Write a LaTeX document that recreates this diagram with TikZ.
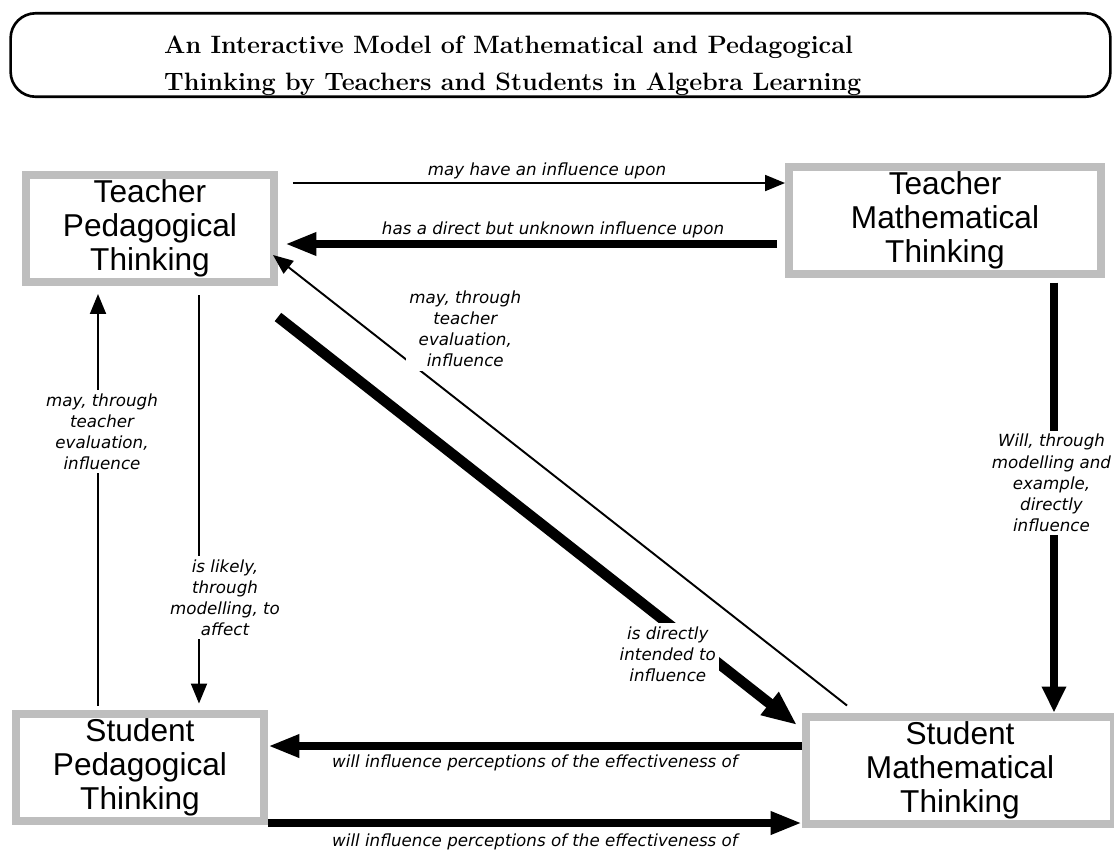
\documentclass[tikz,border=0pt]{standalone}
\usepackage{fontspec}
\setsansfont{Liberation Sans}
\newfontfamily\edgefont{DejaVu Sans}
\usetikzlibrary{arrows.meta,positioning,calc}
\definecolor{BoxGray}{HTML}{BEBEBE}

\begin{document}
\begin{tikzpicture}[x=0.02cm, y=-0.02cm,
   box/.style={draw=BoxGray, line width=0.16cm, fill=white, align=center, inner sep=0pt,
               minimum height=2.14cm, font=\sffamily\fontsize{18}{19.3}\selectfont},
   lbl/.style={font=\edgefont\itshape\fontsize{9.5}{12}\selectfont, align=center, inner sep=1pt},
   lblcut/.style={lbl, fill=white, inner sep=2pt},
   thinarr/.style={line width=1.1pt, -{Triangle[length=0.4cm,width=0.32cm]}},
   thickarr/.style={line width=4.5pt, -{Triangle[length=0.63cm,width=0.43cm]}},
   vertarr/.style={line width=4pt, -{Triangle[length=0.52cm,width=0.46cm]}},
   diagarr/.style={line width=6pt, -{Triangle[length=0.7cm,width=0.54cm]}}]
  \useasboundingbox (0,0) rectangle (1114,850);

  % Titelrahmen
  \node[draw, line width=1.5pt, rounded corners=0.5cm, minimum width=22cm,
        minimum height=1.67cm] (frame) at (560.5,55) {};
  \node[anchor=west, align=left, font=\bfseries\fontsize{14.3}{21}\selectfont] (title) at (158,66)
    {An Interactive Model of Mathematical and Pedagogical\\Thinking by Teachers and Students in Algebra Learning};

  \node[box, minimum width=4.96cm] (tp) at (150,228.5) {Teacher\\Pedagogical\\Thinking};
  \node[box, minimum width=6.24cm] (tm) at (945,220)   {Teacher\\Mathematical\\Thinking};
  \node[box, minimum width=4.96cm] (sp) at (140,767)   {Student\\Pedagogical\\Thinking};
  \node[box, minimum width=6.16cm] (sm) at (960,770)   {Student\\Mathematical\\Thinking};

  \draw[thinarr] ([xshift=0.3cm,yshift=-0.24cm]tp.north east) -- ([yshift=-0.24cm]tp.north east -| tm.west)
    node[lbl, midway, xshift=0.16cm, yshift=0.24cm] {may have an influence upon};
  \draw[thickarr] ([xshift=-0.16cm,yshift=-0.48cm]tm.west) -- ([xshift=0.14cm,yshift=-0.48cm]tm.west -| tp.east)
    node[lbl, midway, xshift=0.44cm, yshift=0.28cm] {has a direct but unknown influence upon};
  % Diagonalen zwischen oben links und unten rechts
  \draw[thinarr] ([xshift=0.9cm,yshift=0.14cm]sm.north west) -- ([xshift=-0.1cm,yshift=-0.53cm]tp.east)
    node[lblcut, pos=0.75, anchor=south west, xshift=-0.23cm, yshift=-0.08cm] {may, through\\teacher\\evaluation,\\influence};
  \draw[diagarr] ([yshift=-0.62cm]tp.south east) -- ([xshift=-0.1cm,yshift=0.9cm]sm.west)
    node[lblcut, pos=0.751, yshift=-0.62cm] {is directly\\intended to\\influence};
  \draw[vertarr] ([xshift=2.18cm,yshift=-0.1cm]tm.south) -- ([xshift=2.18cm]tm.south |- sm.north)
    node[lblcut, pos=0.466, xshift=-0.05cm] {Will, through\\modelling and\\example,\\directly\\influence};
  \draw[thinarr] ([xshift=-0.84cm,yshift=0.08cm]sp.north) -- ([xshift=-0.84cm,yshift=-0.16cm]sp.north |- tp.south)
    node[lblcut, pos=0.665, xshift=0.08cm] {may, through\\teacher\\evaluation,\\influence};
  \draw[thinarr] ([xshift=0.98cm,yshift=-0.18cm]tp.south) -- ([xshift=0.98cm,yshift=0.12cm]tp.south |- sp.north)
    node[lblcut, pos=0.741, xshift=0.52cm] {is likely,\\through\\modelling, to\\affect};
  \draw[thickarr] ([yshift=0.48cm]sm.west) -- ([yshift=0.48cm]sm.west -| sp.east)
    node[lbl, midway, yshift=-0.34cm] {will influence perceptions of the effectiveness of};
  \draw[thickarr] ([yshift=-1.12cm]sp.east) -- ([yshift=-1.12cm]sp.east -| sm.west)
    node[lbl, midway, yshift=-0.38cm] {will influence perceptions of the effectiveness of};
\end{tikzpicture}
\end{document}
